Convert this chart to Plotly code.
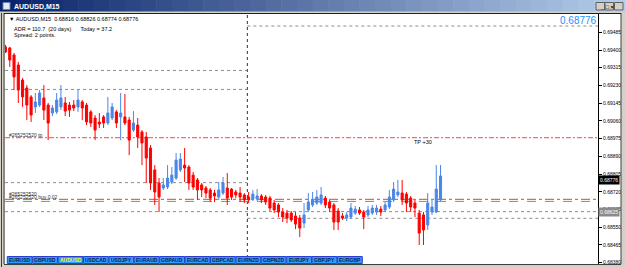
import plotly.graph_objects as go

W, H = 625, 267
PL, PR, PT, PB = 5, 598, 13, 265

# ---------------- data ----------------
bars = list(range(103))
opens = [0.69415, 0.69410, 0.69376, 0.69328, 0.69256, 0.69218, 0.69175, 0.69127, 0.69136, 0.69170,
         0.69136, 0.69098, 0.69103, 0.69127, 0.69146, 0.69136, 0.69136, 0.69127, 0.69151, 0.69136,
         0.69103, 0.69074, 0.69055, 0.69079, 0.69050, 0.69074, 0.69103, 0.69079, 0.69079, 0.69064,
         0.69016, 0.69040, 0.69007, 0.68983, 0.68930, 0.68825, 0.68762, 0.68738, 0.68743, 0.68767,
         0.68786, 0.68825, 0.68848, 0.68839, 0.68800, 0.68777, 0.68753, 0.68738, 0.68729, 0.68714,
         0.68695, 0.68714, 0.68738, 0.68733, 0.68719, 0.68714, 0.68705, 0.68695, 0.68685, 0.68685,
         0.68700, 0.68695, 0.68690, 0.68666, 0.68657, 0.68623, 0.68618, 0.68618, 0.68604, 0.68594,
         0.68570, 0.68633, 0.68657, 0.68666, 0.68666, 0.68690, 0.68671, 0.68657, 0.68628, 0.68604,
         0.68594, 0.68599, 0.68618, 0.68633, 0.68623, 0.68609, 0.68618, 0.68623, 0.68637, 0.68633,
         0.68647, 0.68681, 0.68705, 0.68714, 0.68709, 0.68690, 0.68666, 0.68618, 0.68609, 0.68561,
         0.68623, 0.68623, 0.68681]
highs = [0.69424, 0.69415, 0.69386, 0.69343, 0.69266, 0.69232, 0.69184, 0.69194, 0.69208, 0.69232,
         0.69146, 0.69136, 0.69194, 0.69232, 0.69175, 0.69151, 0.69160, 0.69208, 0.69160, 0.69146,
         0.69112, 0.69088, 0.69098, 0.69088, 0.69175, 0.69146, 0.69112, 0.69194, 0.69189, 0.69079,
         0.69107, 0.69074, 0.69016, 0.69007, 0.68944, 0.68848, 0.68786, 0.68786, 0.68848, 0.68839,
         0.68906, 0.68906, 0.68930, 0.68848, 0.68815, 0.68786, 0.68762, 0.68748, 0.68738, 0.68729,
         0.68767, 0.68791, 0.68810, 0.68738, 0.68729, 0.68743, 0.68714, 0.68719, 0.68729, 0.68733,
         0.68709, 0.68705, 0.68700, 0.68681, 0.68666, 0.68642, 0.68633, 0.68628, 0.68623, 0.68609,
         0.68666, 0.68714, 0.68719, 0.68729, 0.68743, 0.68700, 0.68681, 0.68666, 0.68642, 0.68618,
         0.68623, 0.68666, 0.68652, 0.68647, 0.68633, 0.68652, 0.68657, 0.68657, 0.68652, 0.68671,
         0.68729, 0.68767, 0.68777, 0.68777, 0.68719, 0.68700, 0.68681, 0.68633, 0.68623, 0.68714,
         0.68681, 0.68848, 0.68848]
lows = [0.69386, 0.69319, 0.69208, 0.69146, 0.69127, 0.69064, 0.69055, 0.69098, 0.69127, 0.69064,
        0.68968, 0.69083, 0.69093, 0.69112, 0.69083, 0.69079, 0.69107, 0.69103, 0.69064, 0.69040,
        0.69031, 0.68968, 0.69026, 0.69026, 0.69040, 0.69064, 0.69026, 0.68968, 0.69040, 0.68896,
        0.69007, 0.68930, 0.68848, 0.68762, 0.68729, 0.68657, 0.68623, 0.68729, 0.68733, 0.68757,
        0.68777, 0.68815, 0.68767, 0.68729, 0.68729, 0.68681, 0.68695, 0.68690, 0.68671, 0.68671,
        0.68681, 0.68705, 0.68657, 0.68681, 0.68690, 0.68671, 0.68666, 0.68666, 0.68676, 0.68676,
        0.68666, 0.68657, 0.68628, 0.68618, 0.68599, 0.68575, 0.68570, 0.68575, 0.68541, 0.68503,
        0.68546, 0.68623, 0.68647, 0.68657, 0.68657, 0.68642, 0.68623, 0.68537, 0.68537, 0.68585,
        0.68580, 0.68589, 0.68609, 0.68609, 0.68541, 0.68599, 0.68609, 0.68609, 0.68604, 0.68623,
        0.68637, 0.68671, 0.68695, 0.68657, 0.68623, 0.68623, 0.68599, 0.68465, 0.68465, 0.68537,
        0.68609, 0.68618, 0.68676]
closes = [0.69391, 0.69352, 0.69271, 0.69208, 0.69175, 0.69136, 0.69088, 0.69151, 0.69194, 0.69112,
          0.69050, 0.69122, 0.69160, 0.69170, 0.69107, 0.69112, 0.69122, 0.69160, 0.69122, 0.69055,
          0.69050, 0.69016, 0.69045, 0.69050, 0.69098, 0.69127, 0.69050, 0.69098, 0.69050, 0.68968,
          0.69050, 0.68983, 0.68954, 0.68882, 0.68762, 0.68719, 0.68695, 0.68753, 0.68786, 0.68800,
          0.68872, 0.68877, 0.68834, 0.68762, 0.68743, 0.68729, 0.68729, 0.68714, 0.68690, 0.68700,
          0.68729, 0.68762, 0.68690, 0.68695, 0.68705, 0.68695, 0.68681, 0.68681, 0.68709, 0.68700,
          0.68681, 0.68671, 0.68642, 0.68633, 0.68623, 0.68599, 0.68594, 0.68585, 0.68565, 0.68546,
          0.68609, 0.68671, 0.68681, 0.68695, 0.68705, 0.68657, 0.68642, 0.68575, 0.68575, 0.68594,
          0.68609, 0.68642, 0.68637, 0.68618, 0.68599, 0.68633, 0.68642, 0.68642, 0.68623, 0.68657,
          0.68695, 0.68733, 0.68719, 0.68681, 0.68666, 0.68647, 0.68642, 0.68522, 0.68537, 0.68666,
          0.68647, 0.68733, 0.68796]

tick_prices = [0.69485, 0.69400, 0.69315, 0.69230, 0.69145, 0.69060, 0.68975,
               0.68890, 0.68805, 0.68720, 0.68635, 0.68550, 0.68465, 0.68380]
tick_labels = ["0.69485", "0.69400", "0.69315", "0.69230", "0.69145", "0.69060", "0.68975",
               "0.68890", "0.68805", "0.68720", "0.68635", "0.68550", "0.68465", "0.68380"]

symbol = "AUDUSD,M15"
header_ohlc = ["0.68816", "0.68826", "0.68774", "0.68776"]
current_bid = 0.68776
current_bid_label = "0.68776"
adr_text = "ADR = 110.7  (20 days)      Today = 37.2"
spread_text = "Spread: 2 points."
order_id = "#265252520"
order_open = 0.68684
order_label = "#265252520 buy 0.02"
tp_price = 0.68980
tp_text = "TP +30"
green_level = 0.68674
gray_box_level = 0.68625
gray_box_label = "0.68625"
left_levels = [0.69302, 0.69211, 0.68764]
right_levels = [0.69515, 0.68593]
full_levels = [0.68625]
split_bar = 56.7
symbols = ["EURUSD", "GBPUSD", "AUDUSD", "USDCAD", "USDJPY", "EURAUD", "GBPAUD",
           "EURCAD", "GBPCAD", "EURNZD", "GBPNZD", "EURJPY", "GBPJPY", "EURGBP"]
active_symbol = "AUDUSD"

# ---------------- scales ----------------
bar_px = 4.265
x_lo = -0.5 / bar_px
x_hi = x_lo + (PR - PL) / bar_px
y_per_px = 0.00004796
y_hi = 0.696399 - y_per_px * PT
y_lo = 0.696399 - y_per_px * PB


def fx(p):
    return (p - PL) / (PR - PL)


def fy(p):
    return (PB - p) / (PB - PT)


RED = "#FF0000"
BLUE = "#4A86E8"

fig = go.Figure()
fig.add_trace(go.Candlestick(
    x=bars, open=opens, high=highs, low=lows, close=closes,
    increasing=dict(line=dict(color=BLUE, width=1), fillcolor=BLUE),
    decreasing=dict(line=dict(color=RED, width=1), fillcolor=RED),
    whiskerwidth=0, hoverinfo="skip", showlegend=False,
))

shapes = []
GRAY_DOT = dict(color="#8C8C8C", width=1, dash="dot")
for lv in left_levels:
    shapes.append(dict(type="line", xref="x", yref="y", x0=x_lo, x1=split_bar, y0=lv, y1=lv,
                       line=GRAY_DOT, layer="below"))
for lv in right_levels:
    shapes.append(dict(type="line", xref="x", yref="y", x0=split_bar, x1=x_hi, y0=lv, y1=lv,
                       line=GRAY_DOT, layer="below"))
for lv in full_levels:
    shapes.append(dict(type="line", xref="x", yref="y", x0=x_lo, x1=x_hi, y0=lv, y1=lv,
                       line=GRAY_DOT, layer="below"))
# vertical separator
shapes.append(dict(type="line", xref="x", yref="paper", x0=split_bar, x1=split_bar, y0=fy(264), y1=1,
                   line=dict(color="#303030", width=1, dash="dot"), layer="below"))
# order lines
shapes.append(dict(type="line", xref="x", yref="y", x0=x_lo, x1=x_hi, y0=tp_price, y1=tp_price,
                   line=dict(color="#FF6A6A", width=1.3, dash="5px,2px,2px,2px"), layer="below"))
shapes.append(dict(type="line", xref="x", yref="y", x0=x_lo, x1=x_hi, y0=order_open, y1=order_open,
                   line=dict(color="#E83C3C", width=1, dash="dashdot"), layer="below"))
shapes.append(dict(type="line", xref="x", yref="y", x0=x_lo, x1=x_hi, y0=green_level, y1=green_level,
                   line=dict(color="#3CC03C", width=1, dash="dash"), layer="below"))

# window frame / title bar
def rect(x0, y0, x1, y1, fill, line=None, layer="above"):
    d = dict(type="rect", xref="paper", yref="paper", x0=fx(x0), x1=fx(x1), y0=fy(y1), y1=fy(y0),
             fillcolor=fill, layer=layer, line=dict(width=0))
    if line:
        d["line"] = dict(color=line, width=1)
    return d

shapes.append(rect(0, 0, W, PT, "#D4D0C8"))
n_grad = 40
c0 = (10, 36, 106)
c1 = (178, 204, 234)
for i in range(n_grad):
    t = i / (n_grad - 1)
    col = "rgb(%d,%d,%d)" % tuple(int(c0[k] + (c1[k] - c0[k]) * t) for k in range(3))
    shapes.append(rect(i * W / n_grad, 0, (i + 1) * W / n_grad + 0.5, 11.5, col))
shapes.append(rect(3, 2.5, 10, 9.5, "#E8E8F0", "#6080C0"))
for bx in [596, 605, 614.5]:
    shapes.append(rect(bx, 2.5, bx + 8.5, 10, "#D4D0C8", "#606060"))
shapes.append(rect(0, PT, PL, H, "#D4D0C8"))
shapes.append(dict(type="line", xref="paper", yref="paper", x0=fx(1.5), x1=fx(1.5), y0=fy(H), y1=fy(PT),
                   line=dict(color="#404040", width=1)))
shapes.append(dict(type="line", xref="paper", yref="paper", x0=fx(4), x1=fx(4), y0=fy(264), y1=fy(PT),
                   line=dict(color="#404040", width=1)))
shapes.append(rect(621, PT, W, H, "#D4D0C8"))
shapes.append(dict(type="line", xref="paper", yref="paper", x0=fx(621), x1=fx(621), y0=fy(264), y1=fy(PT),
                   line=dict(color="#404040", width=1)))
shapes.append(rect(PL, 264.5, 621, H, "#D4D0C8"))
shapes.append(dict(type="line", xref="paper", yref="paper", x0=fx(4), x1=fx(621), y0=fy(264.5), y1=fy(264.5),
                   line=dict(color="#404040", width=1)))
shapes.append(dict(type="line", xref="paper", yref="paper", x0=fx(4), x1=fx(621), y0=fy(13.5), y1=fy(13.5),
                   line=dict(color="#202020", width=1)))

annotations = []


def label(x, y, text, size=5.5, color="#000000", xanchor="left", yref="paper", yshift=0, bg=None, xref="paper"):
    d = dict(x=x, y=y, xref=xref, yref=yref, text=text, showarrow=False, xanchor=xanchor,
             yanchor="middle", yshift=yshift, borderpad=0,
             font=dict(family="Liberation Sans, Arial, sans-serif", size=size, color=color))
    if bg:
        d["bgcolor"] = bg
        d["borderpad"] = 1
    annotations.append(d)

# buttons
bw = 25.4
for i, s in enumerate(symbols):
    x0 = 7.3 + i * bw
    shapes.append(rect(x0, 256.5, x0 + bw - 0.6, 263.5, "#2E9BFF", "#2A3FD0"))
    label(fx(x0 + (bw - 0.6) / 2), fy(260), "<b>%s</b>" % s, size=5,
          color="#E8FF20" if s == active_symbol else "#0E1E4E", xanchor="center")

fig.update_layout(shapes=shapes)

# texts
label(fx(13), fy(6.5), "<b>%s</b>" % symbol, size=7, color="#FFFFFF")
label(fx(598.5), fy(6.5), "<b>_ &#9633; &#215;</b>", size=5.5, color="#000000", xanchor="left")
label(fx(8), fy(19), "\u25bc " + symbol + "\u00a0\u00a0" + " ".join(header_ohlc), size=5.5)
label(fx(13), fy(29.3), adr_text.replace(" ", "\u00a0"), size=5.5)
label(fx(13), fy(34.6), spread_text, size=5.5)
label(fx(597.5), fy(20), current_bid_label, size=10, color="#1E90FF", xanchor="right")
label(fx(8), tp_price, order_id + " tp", size=5, color="#303030", yref="y", yshift=2.8)
label(fx(8), order_open, order_id, size=5, color="#303030", yref="y", yshift=5)
label(fx(8), order_open, order_label, size=5, color="#303030", yref="y", yshift=2)
label(fx(413), tp_price, tp_text, size=5.5, color="#000000", yref="y", yshift=-4.6)
label(1.0, current_bid, current_bid_label, size=5, color="#FFFFFF", yref="y", bg="#000000", xanchor="left")
label(1.0, gray_box_level, gray_box_label, size=5, color="#FFFFFF", yref="y", bg="#8A8A8A", xanchor="left")

fig.update_layout(
    annotations=annotations,
    width=W, height=H,
    margin=dict(l=PL, r=W - PR, t=PT, b=H - PB, pad=0),
    paper_bgcolor="#FFFFFF", plot_bgcolor="#FFFFFF",
    showlegend=False, hovermode=False, boxgap=0.3,
    xaxis=dict(range=[x_lo, x_hi], visible=False, rangeslider=dict(visible=False), fixedrange=True),
    yaxis=dict(range=[y_lo, y_hi], side="right", showgrid=False, zeroline=False,
               showline=True, linecolor="#000000", linewidth=1, mirror=False,
               ticks="outside", ticklen=3, tickcolor="#000000", tickwidth=1,
               tickvals=tick_prices, ticktext=tick_labels,
               tickfont=dict(family="Liberation Sans, Arial, sans-serif", size=5, color="#000000"),
               fixedrange=True),
)

fig.write_html("out.html", config={"displayModeBar": False})
